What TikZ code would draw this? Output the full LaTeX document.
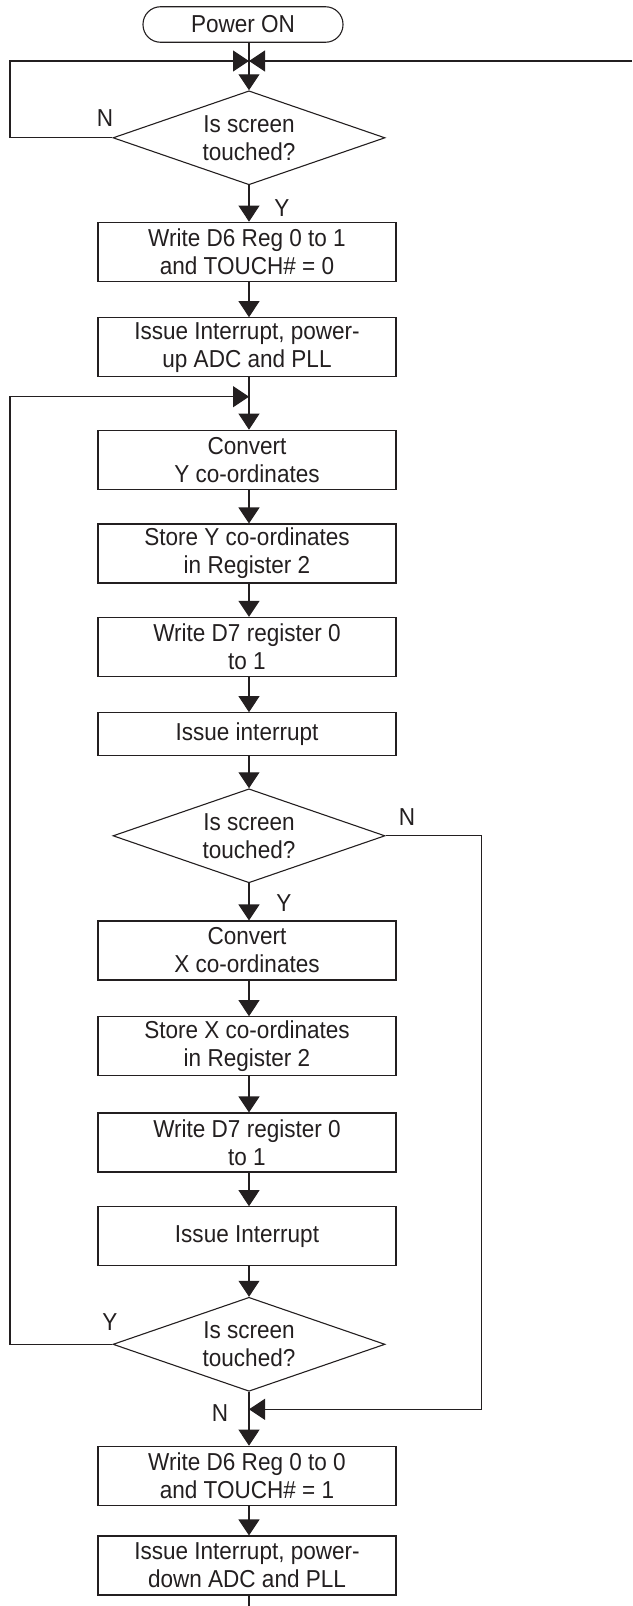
\documentclass[tikz,border=0pt]{standalone}
\usepackage{fontspec}
\setmainfont{Liberation Sans}[FakeStretch=0.92]
\usetikzlibrary{arrows.meta,shapes.geometric}
\definecolor{ink}{RGB}{35,31,32}
\begin{document}
\begin{tikzpicture}[x=1pt,y=-1pt,
  every node/.style={font=\fontsize{24.5}{28}\selectfont, text=ink},
  box/.style={draw=ink, line width=1.1pt, minimum width=298pt, minimum height=59pt, inner sep=0pt, align=center},
  shortbox/.style={box, minimum height=42.6pt},
  term/.style={draw=ink, line width=1.1pt, rounded corners=17.5pt, minimum width=200pt, minimum height=35.5pt, inner sep=0pt},
  dia/.style={draw=ink, line width=1.1pt, shape=diamond, minimum width=272pt, minimum height=94pt, inner sep=0pt},
  diatext/.style={align=center, inner sep=0pt},
  flow/.style={draw=ink, line width=1.1pt, -{Triangle[length=16pt,width=21pt]}},
  link/.style={draw=ink, line width=1.1pt},
  lab/.style={inner sep=0pt}
]
\useasboundingbox (0,0) rectangle (632,1606);
\coordinate (ax) at (249,0);

% nodes
\node[term] (pwr) at (243,24.5) {Power ON};
\node[dia] (d1) at (249,137.8) {};
\node[diatext] (d1t) at (d1) {Is screen\\touched?};
\node[box] (b1) at (247,251.7) {Write D6 Reg 0 to 1\\and TOUCH\# = 0};
\node[box] (b2) at (247,347.2) {Issue Interrupt, power-\\up ADC and PLL};
\node[box] (b3) at (247,459.7) {Convert\\Y co-ordinates};
\node[box] (b4) at (247,553.5) {Store Y co-ordinates\\in Register 2};
\node[box] (b5) at (247,646.9) {Write D7 register 0\\to 1};
\node[shortbox] (b6) at (247,734) {Issue interrupt};
\node[dia] (d2) at (249,835.8) {};
\node[diatext] (d2t) at (d2) {Is screen\\touched?};
\node[box] (b7) at (247,950.5) {Convert\\X co-ordinates};
\node[box] (b8) at (247,1046.2) {Store X co-ordinates\\in Register 2};
\node[box] (b9) at (247,1142.5) {Write D7 register 0\\to 1};
\node[box] (b10) at (247,1236.2) {Issue Interrupt};
\node[dia] (d3) at (249,1344.3) {};
\node[diatext] (d3t) at (d3) {Is screen\\touched?};
\node[box] (b11) at (247,1475.7) {Write D6 Reg 0 to 0\\and TOUCH\# = 1};
\node[box] (b12) at (247,1565.5) {Issue Interrupt, power-\\down ADC and PLL};

% labels
\node[lab] (ln1) at (105,118) {N};
\node[lab] (ly1) at (282,208) {Y};
\node[lab] (ln2) at (407,817) {N};
\node[lab] (ly2) at (284,903) {Y};
\node[lab] (ly3) at (110,1322) {Y};
\node[lab] (ln3) at (220,1413) {N};

% junctions and free ends
\coordinate (m1) at (249,61);
\coordinate (m2) at (249,396.7);
\coordinate (m3) at (249,1409.3);
\coordinate (rin) at (632,61);
\coordinate (lx1) at (10,61);
\coordinate (lx2) at (10,396.7);
\coordinate (rx) at (481.7,1409.3);
\coordinate (endp) at (249,1606);

% connectors
\draw[link] (pwr.south -| ax) -- (m1);
\draw[flow] (m1) -- (d1.north);
\draw[flow] (d1.west) -| (lx1) -- (m1);
\draw[flow] (rin) -- (m1);
\draw[flow] (d1.south) -- (b1.north -| ax);
\draw[flow] (b1.south -| ax) -- (b2.north -| ax);
\draw[link] (b2.south -| ax) -- (m2);
\draw[flow] (m2) -- (b3.north -| ax);
\draw[flow] (b3.south -| ax) -- (b4.north -| ax);
\draw[flow] (b4.south -| ax) -- (b5.north -| ax);
\draw[flow] (b5.south -| ax) -- (b6.north -| ax);
\draw[flow] (b6.south -| ax) -- (d2.north);
\draw[flow] (d2.south) -- (b7.north -| ax);
\draw[flow] (b7.south -| ax) -- (b8.north -| ax);
\draw[flow] (b8.south -| ax) -- (b9.north -| ax);
\draw[flow] (b9.south -| ax) -- (b10.north -| ax);
\draw[flow] (b10.south -| ax) -- (d3.north);
\draw[flow] (d3.west) -| (lx2) -- (m2);
\draw[flow] (d2.east) -| (rx) -- (m3);
\draw[link] (d3.south) -- (m3);
\draw[flow] (m3) -- (b11.north -| ax);
\draw[flow] (b11.south -| ax) -- (b12.north -| ax);
\draw[link] (b12.south -| ax) -- (endp);
\end{tikzpicture}
\end{document}
